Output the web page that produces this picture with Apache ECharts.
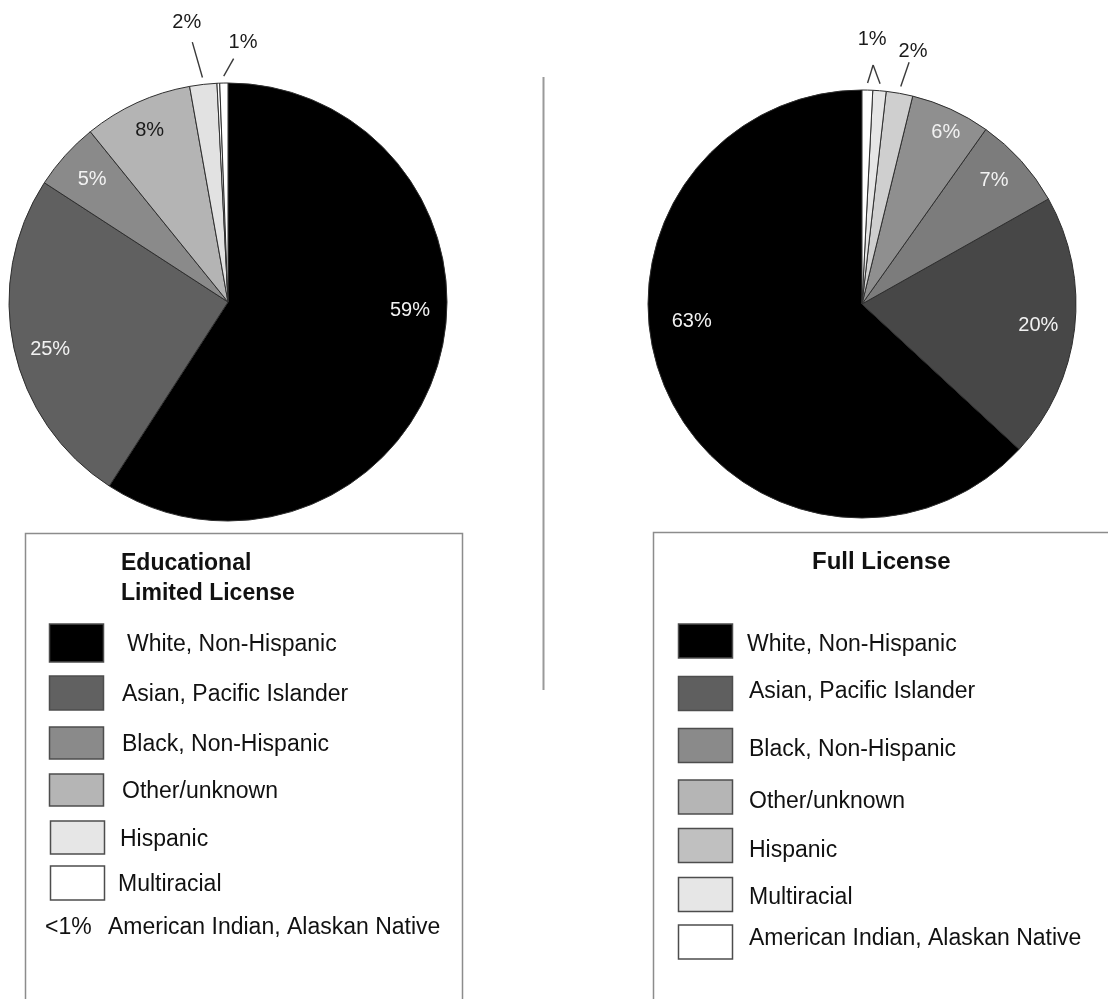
<!DOCTYPE html>
<html>
<head>
<meta charset="utf-8">
<script src="https://cdn.jsdelivr.net/npm/echarts@6/dist/echarts.min.js"></script>
<style>
  html, body { margin: 0; padding: 0; background: #ffffff; }
  #chart { width: 1108px; height: 999px; }
</style>
</head>
<body>
<div id="chart"></div>
<script>
// Race / ethnicity categories, in legend order
const categories = [
  'White, Non-Hispanic',
  'Asian, Pacific Islander',
  'Black, Non-Hispanic',
  'Other/unknown',
  'Hispanic',
  'Multiracial',
  'American Indian, Alaskan Native'
];

// Percent shares per license type (same order as categories)
const limitedShares = [59, 25, 5, 8, 2, 0.6, 0.2];
const fullShares    = [63, 20, 7, 6, 2, 1, 0.8];

// Order the slices are laid out in, starting at 12 o'clock
const limitedSliceOrder = [0, 1, 2, 3, 4, 6, 5];
const fullSliceOrder    = [0, 1, 2, 3, 4, 5, 6];

// Legend titles
const limitedTitle = ['Educational', 'Limited License'];
const fullTitle = 'Full License';

// ---- styling ----
const FONT = '"Liberation Sans", Arial, Helvetica, sans-serif';

const limitedPieColors = ['#000000', '#606060', '#8a8a8a', '#b4b4b4', '#e2e2e2', '#ffffff', '#ffffff'];
const fullPieColors    = ['#000000', '#474747', '#7c7c7c', '#8f8f8f', '#cfcfcf', '#e6e6e6', '#ffffff'];
const limitedKeyColors = ['#000000', '#616161', '#8a8a8a', '#b5b5b5', '#e6e6e6', '#ffffff'];
const fullKeyColors    = ['#000000', '#5f5f5f', '#8a8a8a', '#b5b5b5', '#c0c0c0', '#e6e6e6', '#ffffff'];

// pie geometry
const LEFT  = { cx: 228, cy: 302, r: 219, clockwise: true };
const RIGHT = { cx: 862, cy: 304, r: 214, clockwise: false };

// where each slice's percent label sits (angle clockwise from 12 o'clock, radius fraction)
const limitedLabelSpots = [
  { angle: 92.8, k: 0.832, color: '#f2f2f2' },
  { angle: 255.2, k: 0.84, color: '#f2f2f2' },
  { k: 0.835, color: '#f2f2f2' },
  { k: 0.862, color: '#1a1a1a' },
  { angle: 351.6, k: 1.288, lead: true, gap: 20, color: '#1a1a1a' },
  { angle: 3.3, k: 1.189, lead: true, gap: 19, color: '#1a1a1a' },
  null
];
// the two thinnest full-license slices share one "1%" label (the second copy is not painted)
const fullLabelSpots = [
  { angle: 264, k: 0.80, color: '#f2f2f2' },
  { angle: 97, k: 0.83, color: '#f2f2f2' },
  { angle: 46.9, k: 0.845, color: '#f2f2f2' },
  { angle: 26.1, k: 0.89, color: '#f2f2f2' },
  { angle: 11.4, k: 1.206, lead: true, gap: 12, color: '#1a1a1a' },
  { angle: 2.2, k: 1.239, lead: true, gap: 26, group: [5, 6], color: '#1a1a1a' },
  { angle: 2.2, k: 1.239, lead: true, gap: 26, group: [5, 6], color: 'rgba(0,0,0,0)' }
];

// mid angle (degrees clockwise from 12 o'clock) of every category's slice
function midAngles(shares, order, clockwise) {
  const total = shares.reduce((a, b) => a + b, 0);
  const mids = new Array(shares.length);
  let acc = 0;
  order.forEach(function (c) {
    const a0 = acc / total * 360;
    acc += shares[c];
    const a1 = acc / total * 360;
    const m = (a0 + a1) / 2;
    mids[c] = clockwise ? m : 360 - m;
  });
  return mids;
}

function makeLabelLayout(geo, shares, order, spots) {
  const mids = midAngles(shares, order, geo.clockwise);
  const pt = function (deg, rad) {
    const a = deg * Math.PI / 180;
    return [geo.cx + rad * Math.sin(a), geo.cy - rad * Math.cos(a)];
  };
  return function (params) {
    const cat = order[params.dataIndex];
    const spot = spots[cat];
    if (!spot) return;
    const ang = spot.angle != null ? spot.angle : mids[cat];
    const p = pt(ang, spot.k * geo.r);
    const out = { x: p[0], y: p[1], align: 'center', verticalAlign: 'middle' };
    if (spot.lead) {
      const group = spot.group || [cat];
      const avg = group.reduce(function (s, c) { return s + mids[c]; }, 0) / group.length;
      const aim = pt(avg, geo.r + 7);
      const dx = aim[0] - p[0], dy = aim[1] - p[1];
      const len = Math.hypot(dx, dy);
      const top = [p[0] + dx / len * spot.gap, p[1] + dy / len * spot.gap];
      out.labelLinePoints = [pt(mids[cat], geo.r + 7), top];
    }
    return out;
  };
}

function pieData(shares, order, colors, spots) {
  return order.map(function (c) {
    const spot = spots[c];
    return {
      name: categories[c],
      value: shares[c],
      itemStyle: { color: colors[c] },
      label: spot
        ? { show: true, position: spot.lead ? 'outside' : 'inside', color: spot.color }
        : { show: false },
      labelLine: spot && spot.lead
        ? { show: true, length: 0, length2: 0, lineStyle: { color: '#3a3a3a', width: 1.4 } }
        : { show: false }
    };
  });
}

function pieSeries(geo, shares, order, colors, spots) {
  return {
    type: 'pie',
    center: [geo.cx, geo.cy],
    radius: geo.r,
    startAngle: 90,
    clockwise: geo.clockwise,
    avoidLabelOverlap: false,
    silent: true,
    itemStyle: { borderColor: '#2e2e2e', borderWidth: 1 },
    label: {
      fontFamily: FONT,
      fontSize: 20,
      formatter: function (p) { return Math.round(p.value) + '%'; }
    },
    emphasis: { disabled: true },
    labelLayout: makeLabelLayout(geo, shares, order, spots),
    data: pieData(shares, order, colors, spots)
  };
}

// ---- legend panels drawn as graphic elements ----
function txt(text, x, y, size, bold, align) {
  return {
    type: 'text',
    silent: true,
    style: {
      text: text, x: x, y: y,
      fill: '#111111',
      font: (bold ? 'bold ' : '') + size + 'px ' + FONT,
      align: align || 'left', verticalAlign: 'middle',
      textAlign: align || 'left', textVerticalAlign: 'middle'
    }
  };
}
function swatch(x, y, w, h, color) {
  return {
    type: 'rect', silent: true,
    shape: { x: x, y: y, width: w, height: h },
    style: { fill: color, stroke: '#4d4d4d', lineWidth: 1.5 }
  };
}

const graphics = [];
// divider between the two panels
graphics.push({ type: 'line', silent: true, shape: { x1: 543.5, y1: 77, x2: 543.5, y2: 690 },
  style: { stroke: '#9a9a9a', lineWidth: 2 } });

// left key
graphics.push({ type: 'rect', silent: true, shape: { x: 25.5, y: 533.5, width: 437, height: 520 },
  style: { fill: 'none', stroke: '#8c8c8c', lineWidth: 1.5 } });
graphics.push(txt(limitedTitle[0], 121, 564, 23, true));
graphics.push(txt(limitedTitle[1], 121, 594, 23, true));
const leftRows = [643, 693, 743, 790, 837.5, 883];
const leftTextX = [127, 122, 122, 122, 120, 118];
const leftSwH = [38, 34, 32, 32, 33, 34];
leftRows.forEach(function (cy, i) {
  graphics.push(swatch(i < 4 ? 49.5 : 50.5, cy - leftSwH[i] / 2, 54, leftSwH[i], limitedKeyColors[i]));
  graphics.push(txt(categories[i], leftTextX[i], cy + 2, 23, false));
});
graphics.push(txt('<' + Math.ceil(limitedShares[6]) + '%', 45, 928, 23, false));
graphics.push(txt(categories[6], 108, 928, 23, false));

// right key
graphics.push({ type: 'rect', silent: true, shape: { x: 653.5, y: 532.5, width: 520, height: 520 },
  style: { fill: 'none', stroke: '#8c8c8c', lineWidth: 1.5 } });
graphics.push(txt(fullTitle, 812, 562, 24, true));
const rightRows = [641, 693.5, 745.5, 797, 845.5, 894.5, 942];
const rightTextY = [645, 692, 750, 802, 851, 898, 939];
rightRows.forEach(function (cy, i) {
  graphics.push(swatch(678.5, cy - 17, 54, 34, fullKeyColors[i]));
  graphics.push(txt(categories[i], i === 0 ? 747 : 749, rightTextY[i], 23, false));
});

const chart = echarts.init(document.getElementById('chart'), null, { renderer: 'canvas' });
chart.setOption({
  animation: false,
  backgroundColor: '#ffffff',
  series: [
    pieSeries(LEFT, limitedShares, limitedSliceOrder, limitedPieColors, limitedLabelSpots),
    pieSeries(RIGHT, fullShares, fullSliceOrder, fullPieColors, fullLabelSpots)
  ],
  graphic: graphics
});
</script>
</body>
</html>
